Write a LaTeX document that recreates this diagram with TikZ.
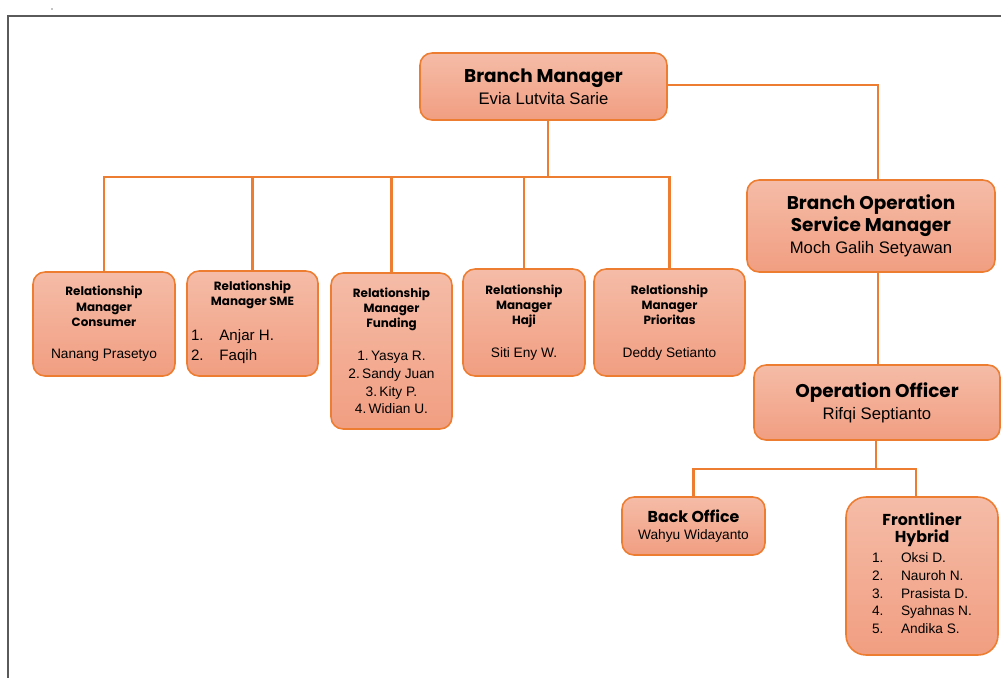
\documentclass[tikz,border=0pt]{standalone}
\usepackage{fontspec}
\setmainfont{Liberation Sans}
\newfontfamily\hdfont{Poppins}
\usepackage{tikz}
\usetikzlibrary{positioning, calc}

\definecolor{orgline}{HTML}{ED7D31}
\definecolor{boxtop}{HTML}{F5BCA7}
\definecolor{boxbot}{HTML}{F19E81}
\definecolor{framegray}{HTML}{5A5A5A}

% font switches, one per line of a node
\newcommand{\bighd}{\hdfont\bfseries\fontsize{10.5}{12.5}\selectfont}
\newcommand{\midhd}{\hdfont\bfseries\fontsize{9}{10.5}\selectfont}
\newcommand{\smallhd}{\hdfont\bfseries\fontsize{6.8}{8}\selectfont}
\newcommand{\bigtx}{\normalfont\fontsize{9.5}{11.5}\selectfont}
\newcommand{\smalltx}{\normalfont\fontsize{7.8}{9.6}\selectfont}

\begin{document}
\begin{tikzpicture}[x=0.02cm, y=-0.02cm,
  box/.style={draw=orgline,line width=0.9pt,rounded corners=2.4mm,top color=boxtop,bottom color=boxbot,
    align=center,inner sep=2pt,font=\bigtx},
  rmbox/.style={box,font=\smalltx},
  link/.style={draw=orgline,line width=1.4pt}]
  \useasboundingbox (0,0) rectangle (1001,677);
  % frame of the page
  \draw[framegray,line width=1.1pt] (8,690) |- (1010,16);
  \fill[black] (52,9) circle (0.6);

  % top level
  \node[box,minimum width=4.94cm,minimum height=1.34cm] (bm) at (543.5,86.5)
    {\bighd Branch Manager\\[1pt]Evia Lutvita Sarie};
  \node[box,minimum width=4.96cm,minimum height=1.84cm] (bosm) at (871,226)
    {\bighd Branch Operation\\[1pt]\bighd Service Manager\\[1pt]Moch Galih Setyawan};
  \node[box,minimum width=4.92cm,minimum height=1.5cm] (oo) at (877,402.5)
    {\bighd Operation Officer\\[1pt]Rifqi Septianto};

  % relationship managers
  \node[rmbox,minimum width=2.84cm,minimum height=2.08cm] (rmc) at (104,324)
    {\smallhd Relationship\\[-1pt]\smallhd Manager\\[-1pt]\smallhd Consumer\\[9pt]Nanang Prasetyo};
  \node[rmbox,minimum width=2.62cm,minimum height=2.1cm] (rms) at (252.5,323.5)
    {\smallhd Relationship\\[-1pt]\smallhd Manager SME\\[9pt]
     \makebox[2.46cm][l]{\fontsize{8.6}{10}\selectfont\renewcommand{\arraystretch}{1.15}%
     \begin{tabular}{@{}l@{\hspace{9pt}}l@{}}1. & Anjar H.\\2. & Faqih\end{tabular}}};
  \node[rmbox,minimum width=2.42cm,minimum height=3.12cm] (rmf) at (391.5,351)
    {\smallhd Relationship\\[-1pt]\smallhd Manager\\[-1pt]\smallhd Funding\\[9pt]1.\,Yasya R.\\[0.5pt]2.\,Sandy Juan\\[0.5pt]3.\,Kity P.\\[0.5pt]4.\,Widian U.};
  \node[rmbox,minimum width=2.44cm,minimum height=2.14cm] (rmh) at (524,322.5)
    {\smallhd Relationship\\[-1pt]\smallhd Manager\\[-1pt]\smallhd Haji\\[9pt]Siti Eny W.};
  \node[rmbox,minimum width=3.02cm,minimum height=2.14cm] (rmp) at (669.5,322.5)
    {\smallhd Relationship\\[-1pt]\smallhd Manager\\[-1pt]\smallhd Prioritas\\[9pt]Deddy Setianto};

  % operation staff
  \node[rmbox,minimum width=2.86cm,minimum height=1.16cm] (bo) at (693.5,526)
    {\midhd Back Office\\Wahyu Widayanto};
  \node[rmbox,minimum width=3.04cm,minimum height=3.16cm,rounded corners=4mm] (fh) at (922,576)
    {\midhd Frontliner\\\midhd Hybrid\\[1pt]
     \renewcommand{\arraystretch}{1.05}%
     \begin{tabular}{@{}l@{\hspace{10pt}}l@{}}1. & Oksi D.\\2. & Nauroh N.\\3. & Prasista D.\\4. & Syahnas N.\\5. & Andika S.\end{tabular}};

  % connectors
  \coordinate (bus) at (548,177);
  \draw[link] (bm.south -| bus) -- (bus);
  \foreach \c in {rmc,rms,rmf,rmh,rmp}
    \draw[link] (bus) -| (\c.north);
  \coordinate (opsline) at (878,85);
  \draw[link] (bm.east |- opsline) -| (bosm.north -| opsline);
  \draw[link] (bosm.south -| opsline) -- (oo.north -| opsline);
  \coordinate (bus2) at (876,469);
  \draw[link] (oo.south -| bus2) -- (bus2) -| (bo.north);
  \draw[link] (bus2) -| ($(fh.north)+(-6,0)$);
\end{tikzpicture}
\end{document}
